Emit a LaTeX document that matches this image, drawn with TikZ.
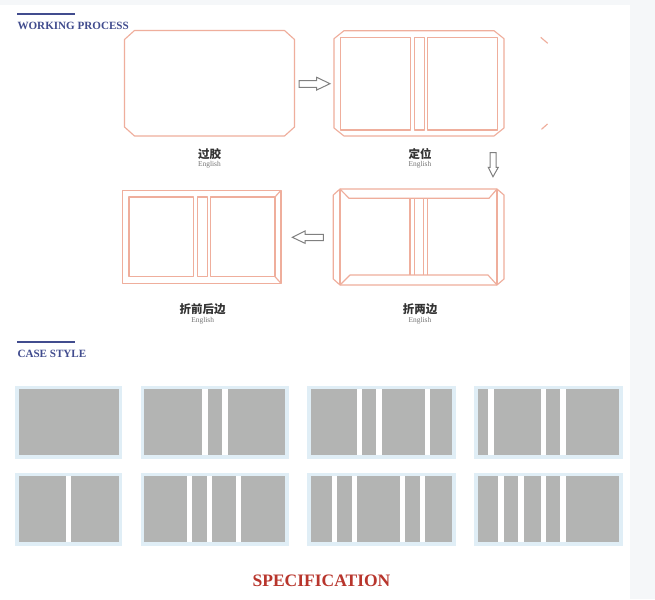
\documentclass[tikz,border=0pt]{standalone}
\usepackage{fontspec}
\setmainfont{Liberation Serif}
\newfontfamily\cjk{Noto Sans CJK SC}
\definecolor{paleback}{HTML}{F5F7F9}
\definecolor{salmon}{HTML}{EFAE9C}
\definecolor{headblue}{HTML}{414C8E}
\definecolor{caseframe}{HTML}{E0EEF6}
\definecolor{casegray}{HTML}{B3B4B3}
\definecolor{specred}{HTML}{B8352C}
\tikzset{
    outline/.style={draw=salmon,line width=1.15pt,line join=round},
    blockarrow/.style={draw=black!50,line width=1pt,fill=white,line join=miter},
    heading/.style={anchor=base west,inner sep=0pt,text=headblue,font=\bfseries\fontsize{11.1}{12}\selectfont},
    steptitle/.style={inner sep=0pt,text=black!80,font=\cjk\bfseries\fontsize{11.5}{12}\selectfont},
    stepsub/.style={inner sep=0pt,text=black!55,font=\fontsize{7.4}{8}\selectfont}
}
\begin{document}
\begin{tikzpicture}[x=1pt,y=-1pt]
    \useasboundingbox (0,0) rectangle (655,599);
    % page
    \fill[paleback] (0,0) rectangle (655,599);
    \fill[white] (0,5) rectangle (630,599);

    % headings
    \fill[headblue] (17.3,13.5) rectangle (75.3,15.2);
    \node[heading] (working) at (17.3,29.8) {WORKING PROCESS};
    \fill[headblue] (17.3,341.2) rectangle (75.3,342.9);
    \node[heading] (casestyle) at (17.3,357.8) {CASE STYLE};

    % glue step
    \draw[outline] (134.5,30.5) -- (284.5,30.5) -- (294.5,39.5) -- (294.5,127) -- (284.5,136)
        -- (134.5,136) -- (124.5,127) -- (124.5,39.5) -- cycle;

    % position step
    \draw[outline] (344,30.7) -- (494,30.7) -- (504,38.7) -- (504,128) -- (494,136)
        -- (344,136) -- (334,128) -- (334,38.7) -- cycle;
    \foreach \xa/\xb in {340.5/410.7, 414.3/424.3, 427.3/497.7}
    {
        \draw[outline] (\xa,37.3) rectangle (\xb,130);
    }
    \draw[outline] (540.7,37.3) -- (547.7,43.3);
    \draw[outline] (541.5,129.3) -- (547.5,124);

    % fold two sides
    \draw[outline] (340,189) -- (497,189) -- (504,195) -- (504,279) -- (497,285)
        -- (340,285) -- (333.3,279) -- (333.3,195) -- cycle;
    \draw[outline] (340,189) -- (340,285);
    \draw[outline] (497,189) -- (497,285);
    \draw[outline] (340,189) -- (349,198.3) -- (489,198.3) -- (497,189);
    \draw[outline] (340,285) -- (350,275) -- (488,275) -- (497,285);
    \foreach \x in {410,414.3,423.3,427.7}
    {
        \draw[outline] (\x,198.3) -- (\x,275);
    }

    % fold front and back
    \draw[outline] (122.7,190.3) rectangle (281,283.3);
    \foreach \xa/\xb in {129/193.3, 197.3/207.3, 210.7/275}
    {
        \draw[outline] (\xa,197) rectangle (\xb,276.7);
    }
    \draw[outline] (281,190.3) -- (275,197);
    \draw[outline] (281,283.3) -- (275,276.7);

    % arrows between the steps
    \draw[blockarrow] (299,80.7) -- (316.7,80.7) -- (316.7,77.3) -- (330,83.7)
        -- (316.7,90) -- (316.7,87.3) -- (299,87.3) -- cycle;
    \draw[blockarrow] (490,152.7) -- (496,152.7) -- (496,167.3) -- (498.3,167.3) -- (493,176.7)
        -- (488.3,167.3) -- (490,167.3) -- cycle;
    \draw[blockarrow] (323.3,234.3) -- (305,234.3) -- (305,231) -- (292.3,237.3)
        -- (305,243.3) -- (305,240.7) -- (323.3,240.7) -- cycle;

    % step labels
    \node[steptitle] (glue) at (209.5,154) {过胶};
    \node[stepsub] (glueen) at (209.5,165) {English};
    \node[steptitle] (position) at (420,154) {定位};
    \node[stepsub] (positionen) at (420,165) {English};
    \node[steptitle] (foldfb) at (202.7,309.3) {折前后边};
    \node[stepsub] (foldfben) at (202.7,320.7) {English};
    \node[steptitle] (foldtwo) at (420,309.3) {折两边};
    \node[stepsub] (foldtwoen) at (420,320.7) {English};

    % case frames and boards
    \foreach \ya/\yb in {385.7/459, 472.7/545.7}
    {
        \foreach \xa/\xb in {15/122, 140.7/288.7, 307.3/455.7, 474.3/622.7}
        {
            \fill[caseframe] (\xa,\ya) rectangle (\xb,\yb);
            \fill[casegray] (\xa+3.5,\ya+3.6) rectangle (\xb-3.5,\yb-3.6);
        }
    }

    % grooves, top row
    \foreach \x in {202.3,222.3,356.7,376.3,425,488.3,540.7,560.3}
    {
        \fill[white] (\x,389.3) rectangle (\x+5.2,454.5);
    }

    % grooves, bottom row
    \foreach \x in {65.7,187,206.7,235.7,331.7,351.7,400,420,498.3,518.3,540.7,560.3}
    {
        \fill[white] (\x,476.3) rectangle (\x+5.2,541.5);
    }

    \node[inner sep=0pt,text=specred,font=\bfseries\fontsize{17.5}{18}\selectfont] (spec) at (321.5,580.5) {SPECIFICATION};
\end{tikzpicture}
\end{document}
